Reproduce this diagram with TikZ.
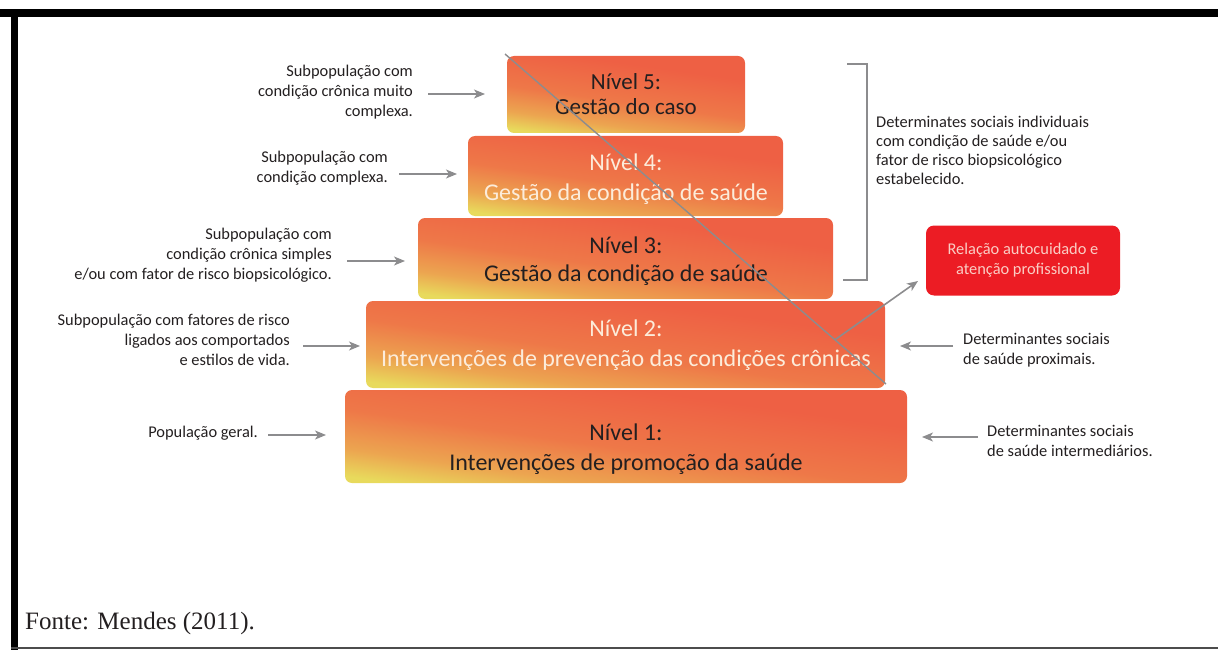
\documentclass[tikz,border=0pt]{standalone}
\usepackage{fontspec}
\setmainfont{Carlito}
\newfontfamily\serifont{Liberation Serif}
\usetikzlibrary{arrows.meta,calc}
\definecolor{pyY}{RGB}{232,218,92}
\definecolor{pyO}{RGB}{236,165,80}
\definecolor{pyM}{RGB}{238,120,72}
\definecolor{pyR}{RGB}{238,96,68}
\definecolor{txt}{RGB}{35,31,32}
\definecolor{cream}{RGB}{252,236,218}
\definecolor{pinkt}{RGB}{250,205,196}
\definecolor{relred}{RGB}{236,28,36}
\definecolor{conn}{RGB}{140,140,142}
\pgfdeclareverticalshading{pyr}{100bp}{color(0bp)=(pyY); color(24bp)=(pyY); color(33bp)=(pyO); color(46bp)=(pyM); color(66bp)=(pyR); color(100bp)=(pyR)}
\begin{document}
\begin{tikzpicture}[x=1pt,y=-1pt,
  lvl/.style={draw=none, rounded corners=7pt, shading=pyr, shading angle=-8, inner sep=0pt},
  lvltext/.style={align=center, font=\fontsize{24}{30}\selectfont, inner sep=0pt},
  small/.style={font=\fontsize{16.4}{20}\selectfont, text=txt, inner sep=0pt},
  arr/.style={draw=conn, line width=1.6pt, -{Stealth[length=11pt,width=9pt,inset=3pt]}},
  gline/.style={draw=conn, line width=1.4pt}
]
\useasboundingbox (0,0) rectangle (1218,650);
% frame
\fill[black] (0,9) rectangle (1218,17);
\fill[black] (11,9) rectangle (18,650);
\draw[black!70, line width=1.5pt] (11,648) -- (1218,648);

% levels
\node[lvl, minimum width=562pt, minimum height=93pt] (b1) at (626,436.5) {};
\node[lvl, minimum width=519pt, minimum height=87pt] (b2) at (625.5,344.5) {};
\node[lvl, minimum width=415pt, minimum height=81pt] (b3) at (625.5,258.5) {};
\node[lvl, minimum width=315pt, minimum height=80pt] (b4) at (625.5,176) {};
\node[lvl, minimum width=238pt, minimum height=77pt] (b5) at (626,94.5) {};

\node[lvltext, text=txt, font=\fontsize{23}{25}\selectfont] (t5) at (626,94) {Nível 5:\\Gestão do caso};
\node[lvltext, text=cream] (t4) at (626,179) {Nível 4:\\Gestão da condição de saúde};
\node[lvltext, text=txt, font=\fontsize{24}{28}\selectfont] (t3) at (626,261) {Nível 3:\\Gestão da condição de saúde};
\node[lvltext, text=cream] (t2) at (626,345) {Nível 2:\\Intervenções de prevenção das condições crônicas};
\node[lvltext, text=txt] (t1) at (626,449) {Nível 1:\\Intervenções de promoção da saúde};

% diagonal line and arrow
\coordinate (d1) at (505,54);
\coordinate (d2) at (886,384);
\draw[gline] (d1) -- (d2);
\coordinate (dm) at ($(d1)!0.866!(d2)$);

% relation box
\node[fill=relred, rounded corners=8pt, minimum width=194pt, minimum height=70pt, inner sep=0pt] (rel) at (1023,260.5) {};
\node[small, text=pinkt, align=center] (relt) at (rel.center) {Relação autocuidado e\\atenção profissional};
\coordinate (rtip) at (918,281);
\draw[arr] (dm) -- (rtip);

% bracket
\coordinate (bk1) at (847,64);
\coordinate (bk2) at (867,64);
\coordinate (bk3) at (867,280);
\coordinate (bk4) at (843,280);
\draw[draw=conn, line width=1.4pt] (bk1) -- (bk2) -- (bk3) -- (bk4);
\node[small, align=left, anchor=west, font=\fontsize{16.4}{19}\selectfont] (bt) at (876,150) {Determinates sociais individuais\\com condição de saúde e/ou\\fator de risco biopsicológico\\estabelecido.};

% left labels
\node[small, align=right, anchor=east] (l5) at (413,92) {Subpopulação com\\condição crônica muito\\complexa.};
\node[small, align=right, anchor=east] (l4) at (388,168) {Subpopulação com\\condição complexa.};
\node[small, align=right, anchor=east] (l3) at (332,255) {Subpopulação com\\condição crônica simples\\e/ou com fator de risco biopsicológico.};
\node[small, align=right, anchor=east] (l2) at (290,340) {Subpopulação com fatores de risco\\ligados aos comportados\\e estilos de vida.};
\node[small, align=right, anchor=east] (l1) at (258,433) {População geral.};

\draw[arr] ([xshift=15pt,yshift=-2pt]l5.east) -- ++(57,0);
\draw[arr] ([xshift=11pt,yshift=-6pt]l4.east) -- ++(58,0);
\draw[arr] ([xshift=15pt,yshift=-6pt]l3.east) -- ++(58,0);
\draw[arr] ([xshift=13pt,yshift=-6pt]l2.east) -- ++(57,0);
\draw[arr] ([xshift=10pt,yshift=-2pt]l1.east) -- ++(58,0);

% right labels
\node[small, align=left, anchor=west] (r2) at (963,350) {Determinantes sociais\\de saúde proximais.};
\node[small, align=left, anchor=west] (r1) at (987,441) {Determinantes sociais\\de saúde intermediários.};
\draw[arr] ([xshift=-10pt,yshift=4pt]r2.west) -- ++(-53,0);
\draw[arr] ([xshift=-9pt,yshift=4pt]r1.west) -- ++(-56,0);

% source
\node[anchor=base west, inner sep=0pt, font=\serifont\fontsize{25}{29}\selectfont, text=txt] (src) at (25,629) {Fonte: Mendes (2011).};
\end{tikzpicture}
\end{document}
